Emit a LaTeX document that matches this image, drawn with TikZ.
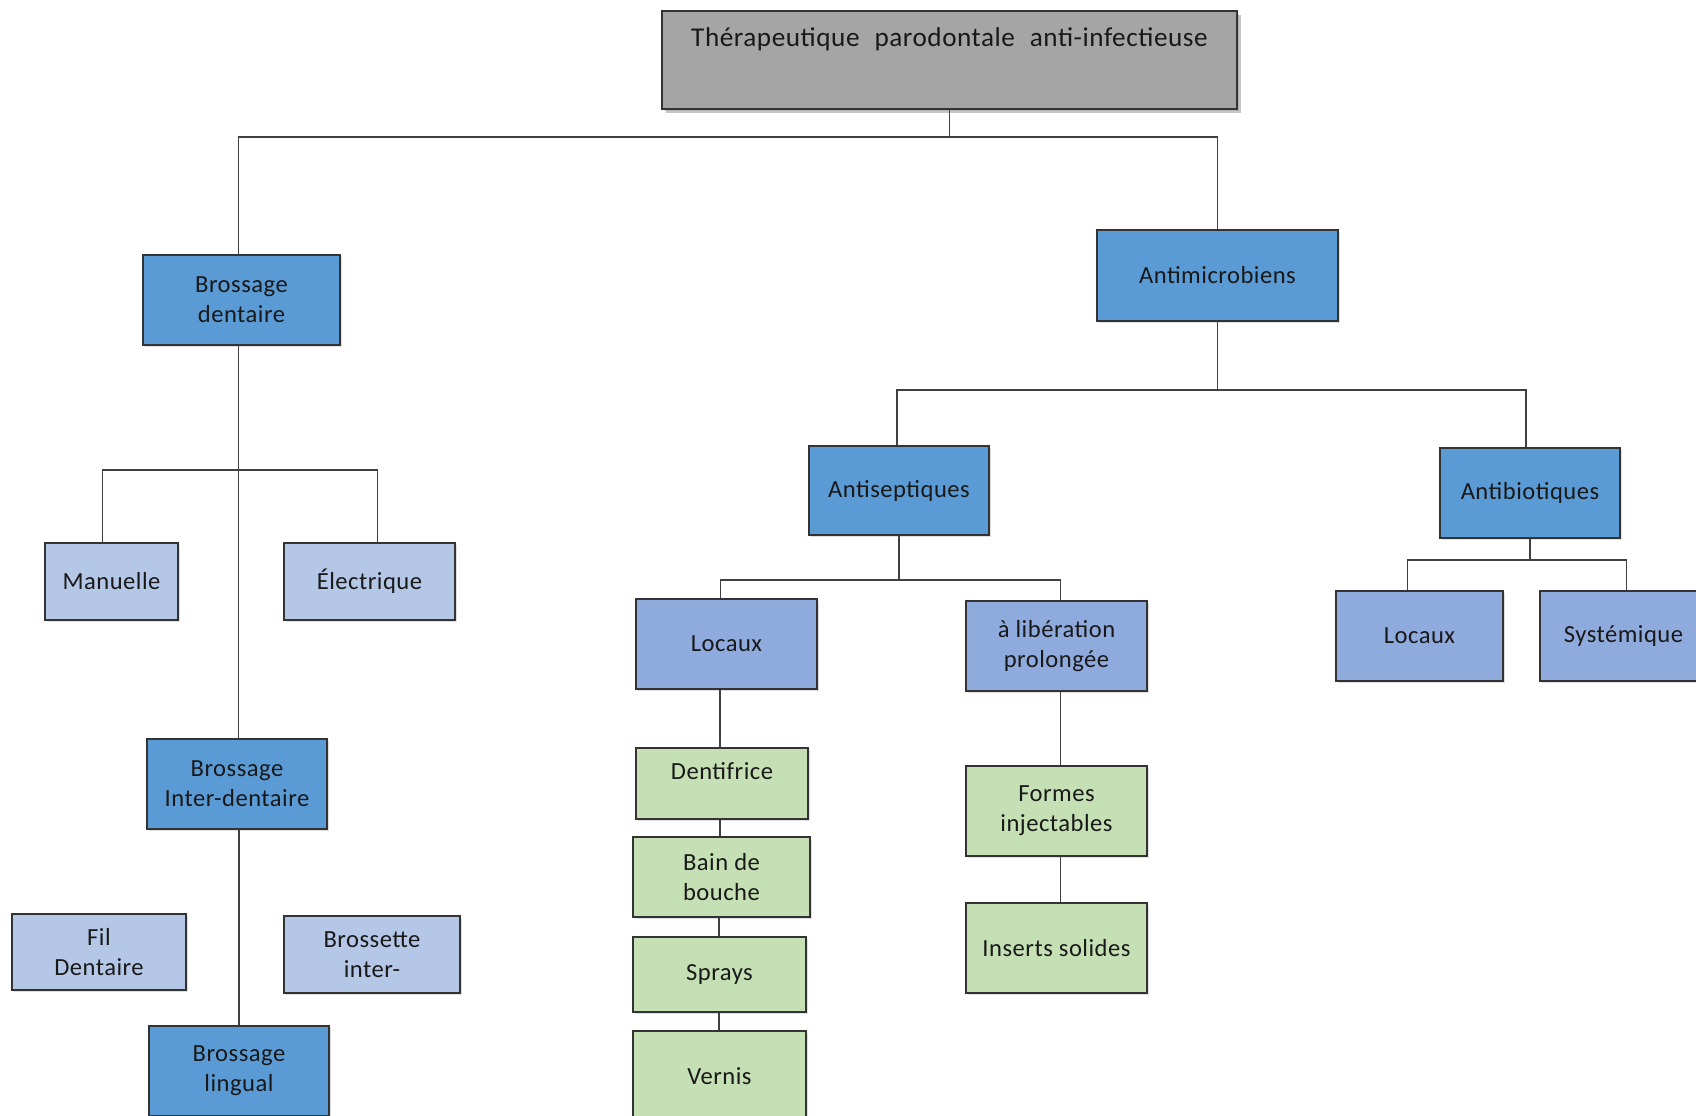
\documentclass[tikz,border=0pt]{standalone}
\usepackage{fontspec}
\setmainfont{Carlito}[LetterSpace=2]
\usetikzlibrary{shadows}
\definecolor{grisTitre}{HTML}{A5A5A5}
\definecolor{bleuFonce}{HTML}{5B9BD5}
\definecolor{bleuMoyen}{HTML}{8FAADC}
\definecolor{bleuClair}{HTML}{B4C7E7}
\definecolor{vertClair}{HTML}{C5E0B4}
\begin{document}
\begin{tikzpicture}[x=0.5pt,y=-0.5pt,
  boite/.style={draw=black!80,line width=0.6pt,align=center,inner sep=2pt,
    font=\fontsize{12.3}{15}\selectfont,text=black!90,
    drop shadow={shadow xshift=0.8pt,shadow yshift=-0.8pt,opacity=0.25}},
  fonce/.style={boite,fill=bleuFonce},
  moyen/.style={boite,fill=bleuMoyen},
  clair/.style={boite,fill=bleuClair},
  vert/.style={boite,fill=vertClair},
  lien/.style={draw=black!75,line width=0.6pt}]
\useasboundingbox (0,0) rectangle (1696,1115);
\clip (0,0) rectangle (1696,1115);
\fill[white] (0,0) rectangle (1696,1115);
% titre
\node[boite,fill=grisTitre,minimum width=287.5pt,inner ysep=0pt,
  text height=17.5pt,text depth=31.5pt,font=\fontsize{13.6}{15}\selectfont,
  drop shadow={shadow xshift=2pt,shadow yshift=-2pt,opacity=0.45}]
  (titre) at (949.5,60) {Thérapeutique\hspace{0.55em}parodontale\hspace{0.55em}anti-infectieuse};
% niveau 1
\node[fonce,minimum width=98.5pt,minimum height=45pt] (bd) at (241.5,300) {Brossage\\dentaire};
\node[fonce,minimum width=120.5pt,minimum height=45.5pt] (am) at (1217.5,275.5) {Antimicrobiens};
% brossage
\node[clair,minimum width=66.5pt,minimum height=38.5pt] (man) at (111.5,581.5) {Manuelle};
\node[clair,minimum width=85.5pt,minimum height=38.5pt] (ele) at (369.5,581.5) {Électrique};
\node[fonce,minimum width=90pt,minimum height=45pt] (bid) at (237,784) {Brossage\\Inter-dentaire};
\node[clair,minimum width=87pt,minimum height=38pt] (fil) at (99,952) {Fil\\Dentaire};
\node[clair,minimum width=88pt,minimum height=38.5pt] (bri) at (372,954.5) {Brossette\\inter-};
\node[fonce,minimum width=90pt,minimum height=45pt] (bl) at (239,1071) {Brossage\\lingual};
% antimicrobiens
\node[fonce,minimum width=90pt,minimum height=44.5pt] (as) at (899,490.5) {Antiseptiques};
\node[fonce,minimum width=90pt,minimum height=45pt] (ab) at (1530,493) {Antibiotiques};
\node[moyen,minimum width=90.5pt,minimum height=45pt] (loc) at (726.5,644) {Locaux};
\node[moyen,minimum width=90.5pt,minimum height=45pt] (lib) at (1056.5,646) {à libération\\prolongée};
\node[moyen,minimum width=83.5pt,minimum height=45pt] (loc2) at (1419.5,636) {Locaux};
\node[moyen,minimum width=83.5pt,minimum height=45pt] (sys) at (1623.5,636) {Systémique};
% formes locales
\node[vert,minimum width=86pt,minimum height=35.5pt,text height=8pt,text depth=12pt] (den) at (722,783.5) {Dentifrice};
\node[vert,minimum width=88.5pt,minimum height=40pt] (bb) at (721.5,877) {Bain de\\bouche};
\node[vert,minimum width=86.5pt,minimum height=37.5pt] (spr) at (719.5,974.5) {Sprays};
\node[vert,minimum width=86.5pt,minimum height=45pt] (ver) at (719.5,1076) {Vernis};
\node[vert,minimum width=90.5pt,minimum height=45pt] (fi) at (1056.5,811) {Formes\\injectables};
\node[vert,minimum width=90.5pt,minimum height=45pt] (ins) at (1056.5,948) {Inserts solides};
% liens
\coordinate (j0) at (949.5,137);
\coordinate (j1) at (241.5,470);
\coordinate (j2) at (1217.5,390);
\coordinate (j3) at (899,580);
\coordinate (j4) at (1530,560);
\draw[lien] (titre.south) -- (j0);
\draw[lien] ([xshift=-1.5pt]bd.north) |- (j0) -| (am.north);
\draw[lien] ([xshift=-1.5pt]bd.south) -- ([xshift=-1.5pt]bd.south |- bid.north);
\draw[lien] ([xshift=-4.5pt]man.north) |- (j1) -| ([xshift=4pt]ele.north);
\draw[lien] ([xshift=1pt]bid.south) -- ([xshift=1pt]bid.south |- bl.north);
\draw[lien] (am.south) -- (j2);
\draw[lien] ([xshift=-1pt]as.north) |- (j2) -| ([xshift=-2pt]ab.north);
\draw[lien] (as.south) -- (j3);
\draw[lien] ([xshift=-3pt]loc.north) |- (j3) -| ([xshift=2pt]lib.north);
\draw[lien] (ab.south) -- (j4);
\draw[lien] ([xshift=-6pt]loc2.north) |- (j4) -| ([xshift=1.5pt]sys.north);
\draw[lien] (den.north -| 720,0) -- (loc.south -| 720,0);
\draw[lien] (den.south -| 720,0) -- (bb.north -| 720,0);
\draw[lien] (bb.south -| 719,0) -- (spr.north -| 719,0);
\draw[lien] (spr.south -| 719,0) -- (ver.north -| 719,0);
\draw[lien] ([xshift=2pt]lib.south) -- ([xshift=2pt]fi.north);
\draw[lien] ([xshift=2pt]fi.south) -- ([xshift=2pt]ins.north);
\end{tikzpicture}
\end{document}
